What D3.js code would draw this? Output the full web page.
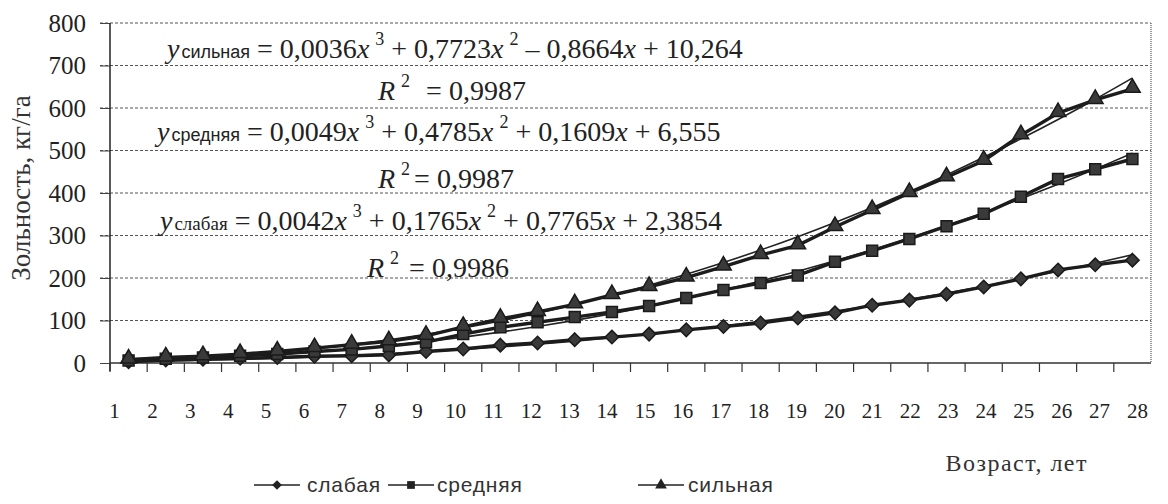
<!DOCTYPE html>
<html>
<head>
<meta charset="utf-8">
<script src="https://cdn.jsdelivr.net/npm/d3@7"></script>
<style>
  body { margin: 0; background: #fff; }
  svg { display: block; }
  .serif { font-family: "Liberation Serif", "Times New Roman", Times, serif; }
  .sans { font-family: "Liberation Sans", Arial, Helvetica, sans-serif; }
</style>
</head>
<body>
<div id="chart"></div>
<script>
// data
const ages = [1, 2, 3, 4, 5, 6, 7, 8, 9, 10, 11, 12, 13, 14, 15, 16, 17, 18, 19, 20, 21, 22, 23, 24, 25, 26, 27, 28];
const weak   = [3, 7, 9, 11, 13, 16, 17, 19, 27, 33, 42, 47, 55, 61, 68, 78, 86, 94, 106, 118, 136, 148, 162, 179, 198, 219, 231, 242];
const medium = [6, 10, 13, 17, 21, 27, 32, 40, 49, 68, 84, 96, 108, 120, 134, 153, 172, 188, 206, 238, 264, 292, 322, 351, 391, 433, 456, 480];
const strong = [8, 13, 16, 21, 27, 35, 43, 51, 64, 85, 104, 120, 138, 160, 179, 201, 227, 254, 277, 320, 360, 400, 437, 476, 536, 588, 619, 645];

const seriesNames = ["слабая", "средняя", "сильная"];
const markerTypes = ["diamond", "square", "triangle"];
// trend coefficients (x^3, x^2, x, const) as printed on the chart
const coefWeak   = [0.0042, 0.1765, 0.7765, 2.3854];
const coefMedium = [0.0049, 0.4785, 0.1609, 6.555];
const coefStrong = [0.0036, 0.7723, -0.8664, 10.264];
const r2Values = [0.9986, 0.9987, 0.9987];
const yTicks = [0, 100, 200, 300, 400, 500, 600, 700, 800];

const width = 1168, height = 504;
const margin = {top: 23, right: 17, bottom: 141, left: 110};

const svg = d3.select("#chart").append("svg")
  .attr("width", width)
  .attr("height", height);

// scales
let x = d3.scaleBand()
  .domain(ages)
  .range([margin.left, width - margin.right]);
let xLin = d3.scaleLinear()
  .domain([ages[0], ages[ages.length - 1]])
  .range([x(ages[0]) + x.bandwidth() / 2, x(ages[ages.length - 1]) + x.bandwidth() / 2]);
let labelX = d3.scalePoint()
  .domain(ages)
  .range([114, 1137]);
let y = d3.scaleLinear()
  .domain([0, 800])
  .range([height - margin.bottom, margin.top]);

const x0 = margin.left, x1 = width - margin.right;
const yBottom = y(0);

// gridlines
svg.append("g")
  .selectAll("line")
  .data(yTicks.filter(d => d > 0))
  .enter()
  .append("line")
    .attr("x1", x0 - 10)
    .attr("x2", x1)
    .attr("y1", d => y(d))
    .attr("y2", d => y(d))
    .attr("stroke", "#555")
    .attr("stroke-width", 1)
    .attr("stroke-dasharray", "3,2");

// right border
svg.append("line")
  .attr("x1", x1).attr("x2", x1)
  .attr("y1", y(800)).attr("y2", yBottom)
  .attr("stroke", "#777")
  .attr("stroke-width", 1.5)
  .attr("stroke-dasharray", "1,1");

// y axis
const yAxis = svg.append("g")
  .attr("transform", `translate(${x0},0)`)
  .call(d3.axisLeft(y).tickValues(yTicks).tickSize(10).tickPadding(14));
yAxis.attr("font-family", null).attr("font-size", null);
yAxis.select(".domain").remove();
yAxis.selectAll(".tick line").attr("stroke", "#444");
yAxis.selectAll("text")
  .attr("class", "serif")
  .style("font-size", "25px")
  .attr("fill", "#222");
svg.append("line")
  .attr("x1", x0).attr("x2", x0)
  .attr("y1", y(800)).attr("y2", yBottom + 8)
  .attr("stroke", "#222")
  .attr("stroke-width", 1.5);

// x axis line and ticks between categories
svg.append("line")
  .attr("x1", x0).attr("x2", x1)
  .attr("y1", yBottom).attr("y2", yBottom)
  .attr("stroke", "#333")
  .attr("stroke-width", 1.5);
svg.append("g")
  .selectAll("line")
  .data(ages)
  .enter()
  .append("line")
    .attr("x1", d => x(d))
    .attr("x2", d => x(d))
    .attr("y1", yBottom)
    .attr("y2", yBottom + 9)
    .attr("stroke", "#333")
    .attr("stroke-width", 1.2);

// x tick labels
const xAxis = svg.append("g")
  .attr("transform", `translate(0,${yBottom + 40})`)
  .call(d3.axisBottom(labelX).tickSize(0).tickPadding(0));
xAxis.attr("font-family", null).attr("font-size", null);
xAxis.select(".domain").remove();
xAxis.selectAll("text")
  .attr("class", "serif")
  .style("font-size", "21px")
  .attr("fill", "#222");

// y axis title
svg.append("text")
  .attr("class", "serif")
  .attr("transform", `translate(30,188) rotate(-90)`)
  .attr("text-anchor", "middle")
  .style("font-size", "27px")
  .attr("fill", "#333")
  .text("Зольность, кг/га");

// x axis title
svg.append("text")
  .attr("class", "serif")
  .attr("x", 1088)
  .attr("y", 471)
  .attr("text-anchor", "end")
  .style("font-size", "24px")
  .attr("letter-spacing", "1.5px")
  .attr("fill", "#333")
  .text("Возраст, лет");

// trend lines from the printed equations
const coefs = [coefWeak, coefMedium, coefStrong];
const poly = (c, t) => c[0] * t * t * t + c[1] * t * t + c[2] * t + c[3];
const trendLine = d3.line()
  .x(d => xLin(d[0]))
  .y(d => y(d[1]))
  .curve(d3.curveMonotoneX);
coefs.forEach(c => {
  const pts = ages.map(a => [a, poly(c, a)]);
  svg.append("path")
    .datum(pts)
    .attr("fill", "none")
    .attr("stroke", "#222")
    .attr("stroke-width", 1.6)
    .attr("d", trendLine);
});

// data lines
const seriesData = [weak, medium, strong];
const dataLine = d3.line()
  .x((d, i) => x(ages[i]) + x.bandwidth() / 2)
  .y(d => y(d));
seriesData.forEach(s => {
  svg.append("path")
    .datum(s)
    .attr("fill", "none")
    .attr("stroke", "#1c1c1c")
    .attr("stroke-width", 3.4)
    .attr("d", dataLine);
});

// markers
const symbolOf = {
  diamond: d3.symbol().type(d3.symbolDiamond2).size(115),
  square: d3.symbol().type(d3.symbolSquare).size(120),
  triangle: d3.symbol().type(d3.symbolTriangle).size(105)
};
seriesData.forEach((s, k) => {
  svg.append("g")
    .selectAll("path")
    .data(s)
    .enter()
    .append("path")
      .attr("d", symbolOf[markerTypes[k]])
      .attr("transform", (d, i) => `translate(${x(ages[i]) + x.bandwidth() / 2},${y(d) + (markerTypes[k] === "triangle" ? -1 : 0)})`)
      .attr("fill", "#3a3a3a")
      .attr("stroke", "#1a1a1a")
      .attr("stroke-width", 1.5);
});

// equations
const fmt = v => String(Math.abs(v)).replace(".", ",");
const sign = v => (v < 0 ? " – " : " + ");
const eqPos = [
  {ex: 160, ey: 230, rx: 367, ry: 277, rGap: 10, subClass: "serif", subSize: "19px"},
  {ex: 157, ey: 141, rx: 378, ry: 188, rGap: 4, subClass: "sans", subSize: "18px"},
  {ex: 167, ey: 58, rx: 378, ry: 100, rGap: 16, subClass: "sans", subSize: "18px"}
];
coefs.forEach((c, k) => {
  const p = eqPos[k];
  const t = svg.append("text")
    .attr("class", "serif")
    .attr("x", p.ex)
    .attr("y", p.ey)
    .style("font-size", "28px")
    .attr("fill", "#222");
  t.append("tspan").style("font-style", "italic").text("y");
  t.append("tspan").attr("class", p.subClass).style("font-size", p.subSize).attr("dx", 2).text(seriesNames[k]);
  t.append("tspan").text(" = " + fmt(c[0]));
  t.append("tspan").style("font-style", "italic").text("x");
  t.append("tspan").style("font-size", "18px").attr("dx", 6).attr("dy", -13).text("3");
  t.append("tspan").attr("dy", 13).text(sign(c[1]) + fmt(c[1]));
  t.append("tspan").style("font-style", "italic").text("x");
  t.append("tspan").style("font-size", "18px").attr("dx", 6).attr("dy", -13).text("2");
  t.append("tspan").attr("dy", 13).text(sign(c[2]) + fmt(c[2]));
  t.append("tspan").style("font-style", "italic").text("x");
  t.append("tspan").text(sign(c[3]) + fmt(c[3]));

  const r = svg.append("text")
    .attr("class", "serif")
    .attr("x", p.rx)
    .attr("y", p.ry)
    .style("font-size", "28px")
    .attr("fill", "#222");
  r.append("tspan").style("font-style", "italic").text("R");
  r.append("tspan").style("font-size", "18px").attr("dx", 6).attr("dy", -13).text("2");
  r.append("tspan").attr("dy", 13).attr("dx", p.rGap).text("= " + fmt(r2Values[k]));
});

// legend
const legend = svg.append("g");
const legendItems = [
  {cx: 277, tx: 307},
  {cx: 411, tx: 437},
  {cx: 661, tx: 688}
];
legendItems.forEach((it, k) => {
  const ly = 485;
  legend.append("line")
    .attr("x1", it.cx - 23).attr("x2", it.cx + 23)
    .attr("y1", ly).attr("y2", ly)
    .attr("stroke", "#222")
    .attr("stroke-width", 1.5);
  legend.append("path")
    .attr("d", symbolOf[markerTypes[k]].size(60)())
    .attr("transform", `translate(${it.cx},${ly})`)
    .attr("fill", "#222");
  legend.append("text")
    .attr("class", "sans")
    .attr("x", it.tx)
    .attr("y", ly + 7)
    .style("font-size", "21px")
    .attr("letter-spacing", "0.8px")
    .attr("fill", "#333")
    .text(seriesNames[k]);
});
</script>
</body>
</html>
